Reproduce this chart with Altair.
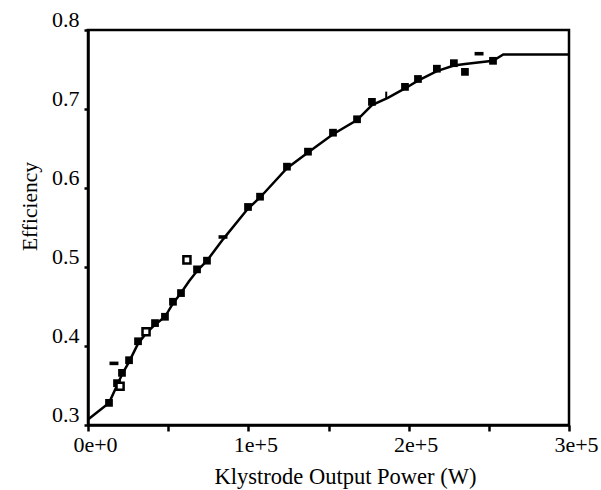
import altair as alt
import pandas as pd

# Curve (traced line)
line_x = [0, 13100, 18100, 21200, 25600, 31200, 36200, 41800, 48000, 53000, 58000, 63000,
          68000, 74200, 84200, 99800, 107300, 124100, 137200, 152800, 167800, 177100,
          187000, 197700, 205800, 217600, 228200, 235100, 252600, 259000, 300000]
line_y = [0.307, 0.328, 0.350, 0.364, 0.380, 0.403, 0.416, 0.427, 0.437, 0.454, 0.467, 0.482,
          0.495, 0.508, 0.535, 0.574, 0.588, 0.625, 0.645, 0.668, 0.686, 0.705,
          0.714, 0.726, 0.736, 0.748, 0.755, 0.757, 0.761, 0.769, 0.769]

# Filled squares
fill_x = [13100, 18100, 21200, 25600, 31200, 41800, 48000, 53000, 58000, 68000, 74200,
          99800, 107300, 124100, 137200, 152800, 167800, 177100, 197700, 205800,
          217600, 228200, 235100, 252600]
fill_y = [0.328, 0.353, 0.366, 0.382, 0.406, 0.429, 0.437, 0.456, 0.467, 0.497, 0.508,
          0.576, 0.589, 0.627, 0.646, 0.670, 0.687, 0.709, 0.728, 0.738,
          0.751, 0.758, 0.747, 0.761]

# Open squares
open_x = [20000, 36200, 61700]
open_y = [0.349, 0.418, 0.509]

# Dashes
dash_x = [16200, 84200, 243900]
dash_y = [0.378, 0.538, 0.770]

# Vertical tick marker
vt_x = [186000]
vt_y = [0.718]

FONT = "Liberation Serif"

line_df = pd.DataFrame({"x": line_x, "y": line_y})
fill_df = pd.DataFrame({"x": fill_x, "y": fill_y})
open_df = pd.DataFrame({"x": open_x, "y": open_y})
dash_df = pd.DataFrame({"x": dash_x, "y": dash_y})
vt_df = pd.DataFrame({"x": vt_x, "y": vt_y})

xscale = alt.Scale(domain=[0, 300000], nice=False, zero=False)
yscale = alt.Scale(domain=[0.3, 0.8], nice=False, zero=False)

xaxis = alt.Axis(
    title="Klystrode Output Power (W)",
    values=[0, 50000, 100000, 150000, 200000, 250000, 300000],
    labelExpr="datum.value == 0 ? '0e+0' : (datum.value % 100000 == 0 ? (datum.value/100000) + 'e+5' : '')",
    grid=False, domainColor="black", domainWidth=2.5, tickColor="black", tickWidth=2.5,
    tickSize=6, labelFont=FONT, labelFontSize=22, labelColor="black", labelOffset=7,
    labelPadding=3, labelFlush=False, labelOverlap=False,
    titleFont=FONT, titleFontSize=22.5, titleFontWeight="normal", titleColor="black",
    titlePadding=10, titleX=257, titleAlign="center",
)
yaxis = alt.Axis(
    title="Efficiency",
    values=[0.3, 0.35, 0.4, 0.45, 0.5, 0.55, 0.6, 0.65, 0.7, 0.75, 0.8],
    labelExpr="abs(round(datum.value*20)) % 2 == 0 ? format(datum.value, '.1f') : ''",
    grid=False, domainColor="black", domainWidth=2.5, tickColor="black", tickWidth=2.5,
    tickSize=4, labelFont=FONT, labelFontSize=22, labelColor="black", labelOffset=-11,
    labelPadding=5, labelFlush=False, labelOverlap=False,
    titleFont=FONT, titleFontSize=21.5, titleFontWeight="normal", titleColor="black",
    titlePadding=10, titleY=176,
)

base_x = alt.X("x:Q", scale=xscale, axis=xaxis)
base_y = alt.Y("y:Q", scale=yscale, axis=yaxis)

line = alt.Chart(line_df).mark_line(color="black", strokeWidth=2.5).encode(x=base_x, y=base_y)
filled = alt.Chart(fill_df).mark_point(shape="square", filled=True, color="black", size=60, opacity=1).encode(
    x="x:Q", y="y:Q")
opens = alt.Chart(open_df).mark_point(shape="square", filled=True, fill="white", stroke="black",
                                       strokeWidth=2.5, size=50, opacity=1).encode(x="x:Q", y="y:Q")
dashes = alt.Chart(dash_df).mark_point(shape="M-1,-0.4H1V0.4H-1Z", filled=True, color="black",
                                        size=80, opacity=1).encode(x="x:Q", y="y:Q")
vts = alt.Chart(vt_df).mark_point(shape="M0,-1V1", filled=False, color="black", strokeWidth=2,
                                   size=40, opacity=1).encode(x="x:Q", y="y:Q")

chart = alt.layer(line, filled, opens, dashes, vts).properties(
    width=481, height=395,
    autosize=alt.AutoSizeParams(type="none"),
    padding={"left": 88, "top": 30, "right": 32, "bottom": 65},
    background="white",
).configure_view(stroke="black", strokeWidth=2.5)

chart.save("out.html", embed_options={"renderer": "svg", "actions": False})
